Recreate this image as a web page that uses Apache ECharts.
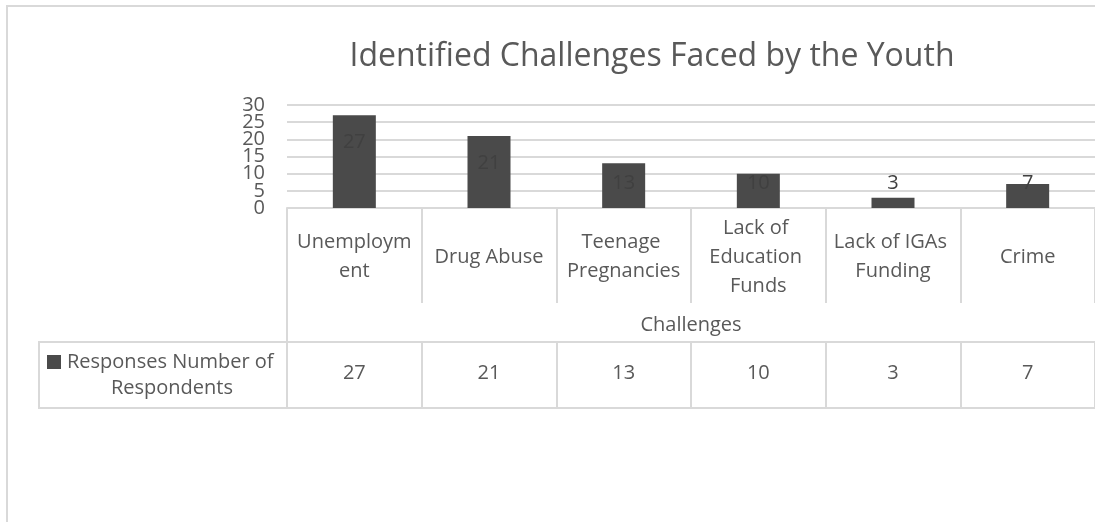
<!DOCTYPE html>
<html>
<head>
<meta charset="utf-8">
<script src="https://cdn.jsdelivr.net/npm/echarts@6/dist/echarts.min.js"></script>
<style>
html,body{margin:0;padding:0;background:#fff;}
#chart{width:1095px;height:522px;}
</style>
</head>
<body>
<div id="chart"></div>
<script>
const titleText = 'Identified Challenges Faced by the Youth';
const categories = ['Unemployment', 'Drug Abuse', 'Teenage Pregnancies', 'Lack of Education Funds', 'Lack of IGAs Funding', 'Crime'];
const respondents = [27, 21, 13, 10, 3, 7];
const seriesName = 'Responses Number of Respondents';
const axisName = 'Challenges';
const yTicks = { min: 0, max: 30, interval: 5 };

const FONT = 'Open Sans';
const TXT = '#595959';
const LINE = '#d9d9d9';
const BAR = '#4a4a4a';

const chart = echarts.init(document.getElementById('chart'), null, { renderer: 'canvas' });

// Two overlaid value axes on the same scale: one labels the even ticks (0,10,20,30),
// the other the odd ticks (5,15,25), so ECharts' min/max overlap pruning keeps all of them.
const yLabelBase = { fontFamily: FONT, fontSize: 20, color: TXT, margin: 22, lineHeight: 16 };

const option = {
  animation: false,
  backgroundColor: '#fff',
  textStyle: { fontFamily: FONT },
  title: {
    text: titleText,
    left: 652,
    top: 38,
    padding: 0,
    textAlign: 'center',
    textStyle: { fontFamily: FONT, fontSize: 32, fontWeight: 'normal', color: TXT, lineHeight: 38 }
  },
  legend: {
    data: [seriesName],
    left: 47,
    top: 352,
    padding: 0,
    icon: 'rect',
    itemWidth: 14,
    itemHeight: 14,
    itemGap: 5,
    selectedMode: false,
    formatter: function () { return 'Responses Number of'; },
    textStyle: { fontFamily: FONT, fontSize: 20, color: TXT, padding: [0, 0, 0, 1] }
  },
  grid: { left: 287, top: 105, width: 820, bottom: 314, containLabel: false },
  yAxis: [
    {
      type: 'value',
      position: 'left',
      min: yTicks.min,
      max: yTicks.max,
      interval: yTicks.interval * 2,
      axisLine: { show: false, onZero: false },
      axisTick: { show: false },
      splitLine: { show: false },
      axisLabel: Object.assign({ showMinLabel: true, showMaxLabel: true }, yLabelBase)
    },
    {
      type: 'value',
      position: 'left',
      offset: 0,
      min: yTicks.min,
      max: yTicks.max,
      interval: yTicks.interval,
      axisLine: { show: false, onZero: false },
      axisTick: { show: false },
      splitLine: { show: true, lineStyle: { color: LINE, width: 2 } },
      axisLabel: Object.assign({
        showMinLabel: false, showMaxLabel: false,
        formatter: function (v) { return (v / yTicks.interval) % 2 === 1 ? String(v) : ''; }
      }, yLabelBase)
    }
  ],
  xAxis: [
    {
      type: 'category',
      data: categories,
      position: 'bottom',
      axisLine: { onZero: false, lineStyle: { color: LINE, width: 2 } },
      axisTick: { show: true, interval: 0, length: 95, lineStyle: { color: LINE, width: 2 } },
      axisLabel: {
        interval: 0, fontFamily: FONT, fontSize: 20, color: TXT, lineHeight: 29,
        width: 124, overflow: 'break', align: 'center', verticalAlign: 'middle', margin: 49
      },
      name: axisName,
      nameLocation: 'middle',
      nameGap: 103,
      nameTextStyle: { fontFamily: FONT, fontSize: 20, color: TXT, lineHeight: 28 }
    },
    {
      type: 'category',
      data: categories,
      position: 'bottom',
      offset: 134,
      axisLine: { onZero: false, lineStyle: { color: LINE, width: 2 } },
      axisTick: { show: true, interval: 0, length: 66, lineStyle: { color: LINE, width: 2 } },
      axisLabel: {
        interval: 0, fontFamily: FONT, fontSize: 20, color: TXT,
        verticalAlign: 'middle', margin: 31,
        formatter: function (v, i) { return String(respondents[i]); }
      }
    },
    {
      type: 'category',
      data: categories,
      position: 'bottom',
      offset: 200,
      axisLine: { onZero: false, lineStyle: { color: LINE, width: 2 } },
      axisTick: { show: false },
      axisLabel: { show: false }
    }
  ],
  series: [
    {
      name: seriesName,
      type: 'bar',
      xAxisIndex: 0,
      yAxisIndex: 0,
      data: respondents,
      barWidth: 43,
      itemStyle: { color: BAR },
      label: { show: false }
    },
    {
      name: 'labels',
      type: 'custom',
      xAxisIndex: 0,
      yAxisIndex: 0,
      data: respondents.map(function (v, i) { return [i, v]; }),
      renderItem: function (params, api) {
        const p = api.coord([api.value(0), api.value(1)]);
        const base = api.coord([api.value(0), 0]);
        const y = Math.min(p[1] + 27, base[1] - 25);
        return {
          type: 'text',
          x: p[0],
          y: y,
          style: {
            text: String(api.value(1)),
            fill: '#404040',
            font: '20px "Open Sans"',
            align: 'center',
            verticalAlign: 'middle'
          }
        };
      },
      silent: true,
      z: 5
    }
  ],
  graphic: [
    { type: 'rect', shape: { x: 7, y: 6, width: 1300, height: 700 }, style: { fill: null, stroke: LINE, lineWidth: 2 }, silent: true, z: -1 },
    { type: 'line', shape: { x1: 287, y1: 302, x2: 287, y2: 343 }, style: { stroke: LINE, lineWidth: 2 }, silent: true },
    { type: 'line', shape: { x1: 39, y1: 342, x2: 288, y2: 342 }, style: { stroke: LINE, lineWidth: 2 }, silent: true },
    { type: 'line', shape: { x1: 39, y1: 408, x2: 288, y2: 408 }, style: { stroke: LINE, lineWidth: 2 }, silent: true },
    { type: 'line', shape: { x1: 39, y1: 341, x2: 39, y2: 409 }, style: { stroke: LINE, lineWidth: 2 }, silent: true },
    { type: 'text', x: 172, y: 388, style: { text: 'Respondents', fill: TXT, font: '20px "Open Sans"', align: 'center', verticalAlign: 'middle' }, silent: true }
  ]
};

chart.setOption(option);
</script>
</body>
</html>
